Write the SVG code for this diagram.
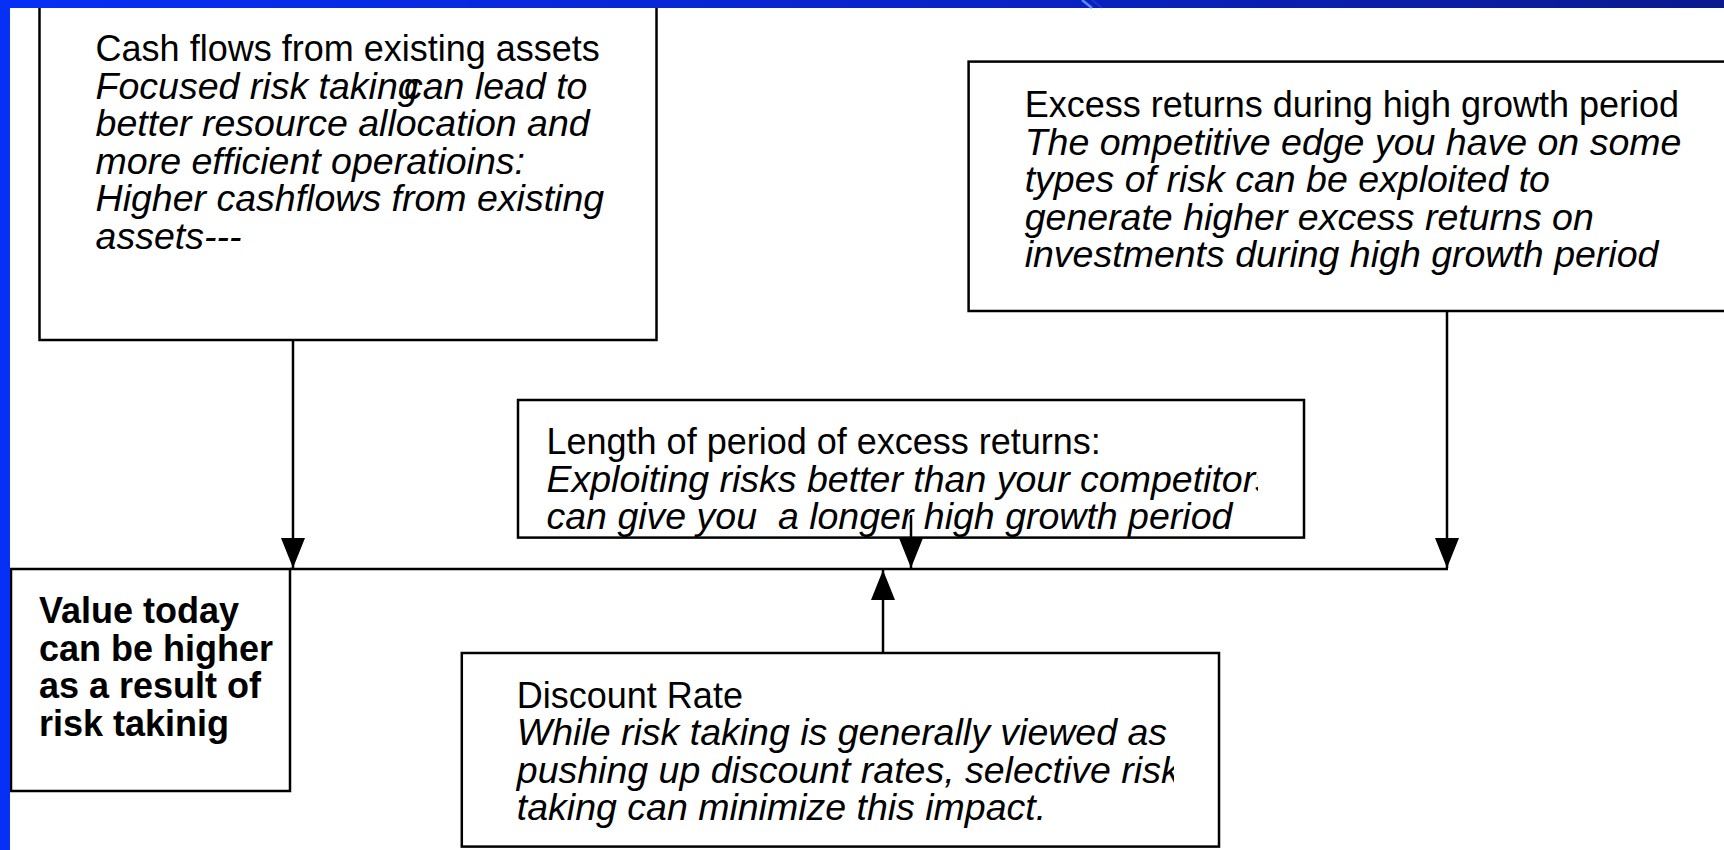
<svg xmlns="http://www.w3.org/2000/svg" width="1724" height="850" viewBox="0 0 1724 850">
  <style>
    .box { fill: #ffffff; stroke: #000000; stroke-width: 2.5; }
    .reg { font-family: "Liberation Sans", Arial, Helvetica, sans-serif; font-size: 36px; fill: #000000; }
    .ital { font-family: "Liberation Sans", Arial, Helvetica, sans-serif; font-size: 37.5px; font-style: italic; fill: #000000; }
    .bold { font-family: "Liberation Sans", Arial, Helvetica, sans-serif; font-size: 36px; font-weight: bold; fill: #000000; }
    .conn { stroke: #000000; stroke-width: 2.5; fill: none; }
  </style>
  <defs>
    <marker id="arrow" markerUnits="userSpaceOnUse" markerWidth="30" markerHeight="24" refX="30" refY="12" orient="auto">
      <path d="M0,0 L30,12 L0,24 Z" fill="#000000"/>
    </marker>
    <linearGradient id="topbar" x1="0" y1="0" x2="1" y2="0">
      <stop offset="0" stop-color="#0630f6"/>
      <stop offset="0.6" stop-color="#0a22c4"/>
      <stop offset="1" stop-color="#0b1a8e"/>
    </linearGradient>
    <clipPath id="clipLen"><rect x="500" y="460" width="758" height="50"/></clipPath>
    <clipPath id="clipDisc"><rect x="480" y="750" width="694" height="45"/></clipPath>
  </defs>

  <rect x="0" y="0" width="1724" height="850" fill="#ffffff"/>

  <g id="node-cashflows">
    <rect class="box" x="39.5" y="-5" width="617" height="345"/>
    <text class="reg" x="95.6" y="61">Cash flows from existing assets</text>
    <text class="ital" x="95.6" y="98.5">Focused risk taking<tspan x="404">can lead to</tspan></text>
    <text class="ital" x="95.6" y="136">better resource allocation and</text>
    <text class="ital" x="95.6" y="173.5">more efficient operatioins:</text>
    <text class="ital" x="95.6" y="211">Higher cashflows from existing</text>
    <text class="ital" x="95.6" y="248.5">assets---</text>
  </g>

  <g id="node-excess">
    <rect class="box" x="968.6" y="61.6" width="770" height="249.4"/>
    <text class="reg" x="1024.7" y="117">Excess returns during high growth period</text>
    <text class="ital" x="1024.7" y="154.5">The ompetitive edge you have on some</text>
    <text class="ital" x="1024.7" y="192">types of risk can be exploited to</text>
    <text class="ital" x="1024.7" y="229.5">generate higher excess returns on</text>
    <text class="ital" x="1024.7" y="267">investments during high growth period</text>
  </g>

  <g id="node-length">
    <rect class="box" x="518" y="400" width="786" height="137.6"/>
    <text class="reg" x="546.5" y="454">Length of period of excess returns:</text>
    <text class="ital" x="546.5" y="491.5" clip-path="url(#clipLen)">Exploiting risks better than your competitors</text>
    <text class="ital" x="546.5" y="529" xml:space="preserve">can give you  a longer high growth period</text>
  </g>

  <g id="node-discount">
    <rect class="box" x="461.8" y="653" width="757.2" height="193.6"/>
    <text class="reg" x="516.8" y="707.5">Discount Rate</text>
    <text class="ital" x="516.8" y="745">While risk taking is generally viewed as</text>
    <text class="ital" x="516.8" y="782.5" clip-path="url(#clipDisc)">pushing up discount rates, selective risk</text>
    <text class="ital" x="516.8" y="820">taking can minimize this impact.</text>
  </g>

  <g id="node-value">
    <rect class="box" x="11" y="569" width="279" height="222"/>
    <text class="bold" x="39" y="623">Value today</text>
    <text class="bold" x="39" y="660.5">can be higher</text>
    <text class="bold" x="39" y="698">as a result of</text>
    <text class="bold" x="39" y="735.5">risk takinig</text>
  </g>

  <g id="connectors">
    <line class="conn" x1="290" y1="569" x2="1448" y2="569"/>
    <line class="conn" x1="293" y1="340" x2="293" y2="568" marker-end="url(#arrow)"/>
    <line class="conn" x1="1447" y1="311" x2="1447" y2="568" marker-end="url(#arrow)"/>
    <line class="conn" x1="911" y1="515" x2="911" y2="568" marker-end="url(#arrow)"/>
    <line class="conn" x1="883" y1="653" x2="883" y2="570" marker-end="url(#arrow)"/>
  </g>

  <g id="frame">
    <rect x="0" y="0" width="1724" height="8" fill="url(#topbar)"/>
    <line x1="1082" y1="0" x2="1092" y2="8" stroke="#5a8cff" stroke-width="2.5"/>
    <line x1="1092" y1="0" x2="1102" y2="8" stroke="#2a50e0" stroke-width="1.5" opacity="0.6"/>
    <rect x="0" y="0" width="10" height="850" fill="#0630f6"/>
  </g>
</svg>
